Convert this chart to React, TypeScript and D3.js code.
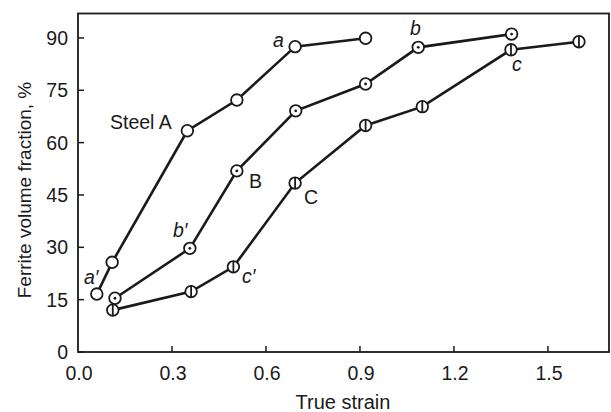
import React, { useEffect, useRef } from "react";
import * as d3 from "d3";

const xTicks = [0.0, 0.3, 0.6, 0.9, 1.2, 1.5];
const yTicks = [0, 15, 30, 45, 60, 75, 90];

const steelAX = [0.06, 0.109, 0.349, 0.507, 0.693, 0.918];
const steelAY = [16.6, 25.7, 63.4, 72.2, 87.5, 89.9];
const steelBX = [0.118, 0.357, 0.507, 0.695, 0.918, 1.086, 1.384];
const steelBY = [15.4, 29.7, 51.9, 69.1, 76.8, 87.3, 91.1];
const steelCX = [0.111, 0.361, 0.496, 0.693, 0.918, 1.099, 1.382, 1.599];
const steelCY = [12.0, 17.3, 24.4, 48.4, 64.9, 70.3, 86.6, 88.9];

const W = 611;
const H = 412;
const FONT = "'Liberation Sans', Arial, Helvetica, sans-serif";
const FS = 19.5;

export default function App() {
  const ref = useRef<SVGSVGElement | null>(null);

  useEffect(() => {
    const svg = d3.select(ref.current);
    svg.selectAll("*").remove();

    const x = d3.scaleLinear().domain([0, 1.7]).range([78, 610.6]);
    const y = d3.scaleLinear().domain([0, 97]).range([352, 13.5]);

    const left = 78, right = 609, top = 13.5, bottom = 352;

    // frame
    svg.append("rect")
      .attr("x", left).attr("y", top)
      .attr("width", right - left).attr("height", bottom - top)
      .attr("fill", "none").attr("stroke", "#1a1a1a").attr("stroke-width", 1.8);

    // y ticks
    const gy = svg.append("g");
    yTicks.forEach((t) => {
      gy.append("line")
        .attr("x1", left).attr("x2", left + 6)
        .attr("y1", y(t)).attr("y2", y(t))
        .attr("stroke", "#1a1a1a").attr("stroke-width", 1.5);
      gy.append("text")
        .attr("x", 68).attr("y", y(t))
        .attr("dy", "0.36em")
        .attr("text-anchor", "end")
        .attr("font-family", FONT).attr("font-size", FS)
        .attr("fill", "#1a1a1a")
        .text(String(t));
    });

    // x ticks
    const gx = svg.append("g");
    xTicks.forEach((t) => {
      if (t > 0) {
        gx.append("line")
          .attr("x1", x(t)).attr("x2", x(t))
          .attr("y1", bottom).attr("y2", bottom - 6)
          .attr("stroke", "#1a1a1a").attr("stroke-width", 1.5);
      }
      gx.append("text")
        .attr("x", x(t) + 1).attr("y", 380)
        .attr("text-anchor", "middle")
        .attr("font-family", FONT).attr("font-size", FS)
        .attr("fill", "#1a1a1a")
        .text(t.toFixed(1));
    });

    // axis titles
    svg.append("text")
      .attr("x", 343).attr("y", 409)
      .attr("text-anchor", "middle")
      .attr("font-family", FONT).attr("font-size", FS + 0.5)
      .attr("fill", "#1a1a1a")
      .text("True strain");

    svg.append("text")
      .attr("transform", `translate(31, 190) rotate(-90)`)
      .attr("text-anchor", "middle")
      .attr("font-family", FONT).attr("font-size", 19)
      .attr("fill", "#1a1a1a")
      .text("Ferrite volume fraction, %");

    const line = d3.line<[number, number]>()
      .x((d) => x(d[0]))
      .y((d) => y(d[1]));

    const series = [
      { xs: steelAX, ys: steelAY, kind: "open" },
      { xs: steelBX, ys: steelBY, kind: "dot" },
      { xs: steelCX, ys: steelCY, kind: "bar" },
    ];

    series.forEach((s) => {
      const pts: [number, number][] = s.xs.map((v, i) => [v, s.ys[i]]);
      svg.append("path")
        .attr("d", line(pts) as string)
        .attr("fill", "none")
        .attr("stroke", "#1a1a1a")
        .attr("stroke-width", 2.6);
      const g = svg.append("g");
      pts.forEach((p) => {
        const cx = x(p[0]), cy = y(p[1]);
        g.append("circle")
          .attr("cx", cx).attr("cy", cy).attr("r", 5.8)
          .attr("fill", "white").attr("stroke", "#1a1a1a").attr("stroke-width", 1.8);
        if (s.kind === "dot") {
          g.append("circle").attr("cx", cx).attr("cy", cy).attr("r", 1.4).attr("fill", "#1a1a1a");
        } else if (s.kind === "bar") {
          g.append("line")
            .attr("x1", cx).attr("x2", cx)
            .attr("y1", cy - 5.8).attr("y2", cy + 5.8)
            .attr("stroke", "#1a1a1a").attr("stroke-width", 1.8);
        }
      });
    });

    // annotations
    const labels: { t: string; x: number; y: number; italic: boolean }[] = [
      { t: "Steel A", x: 110, y: 129, italic: false },
      { t: "B", x: 249, y: 188, italic: false },
      { t: "C", x: 304, y: 204, italic: false },
      { t: "a", x: 273, y: 47, italic: true },
      { t: "b", x: 410, y: 35, italic: true },
      { t: "c", x: 512, y: 71, italic: true },
      { t: "a\u2032", x: 84, y: 284, italic: true },
      { t: "b\u2032", x: 173, y: 237, italic: true },
      { t: "c\u2032", x: 242, y: 283, italic: true },
    ];
    labels.forEach((l) => {
      svg.append("text")
        .attr("x", l.x).attr("y", l.y)
        .attr("font-family", FONT).attr("font-size", FS)
        .attr("font-style", l.italic ? "italic" : "normal")
        .attr("fill", "#1a1a1a")
        .text(l.t);
    });
  }, []);

  return (
    <svg
      ref={ref}
      width={W}
      height={H}
      style={{ position: "absolute", left: 0, top: 0, background: "white" }}
    />
  );
}
